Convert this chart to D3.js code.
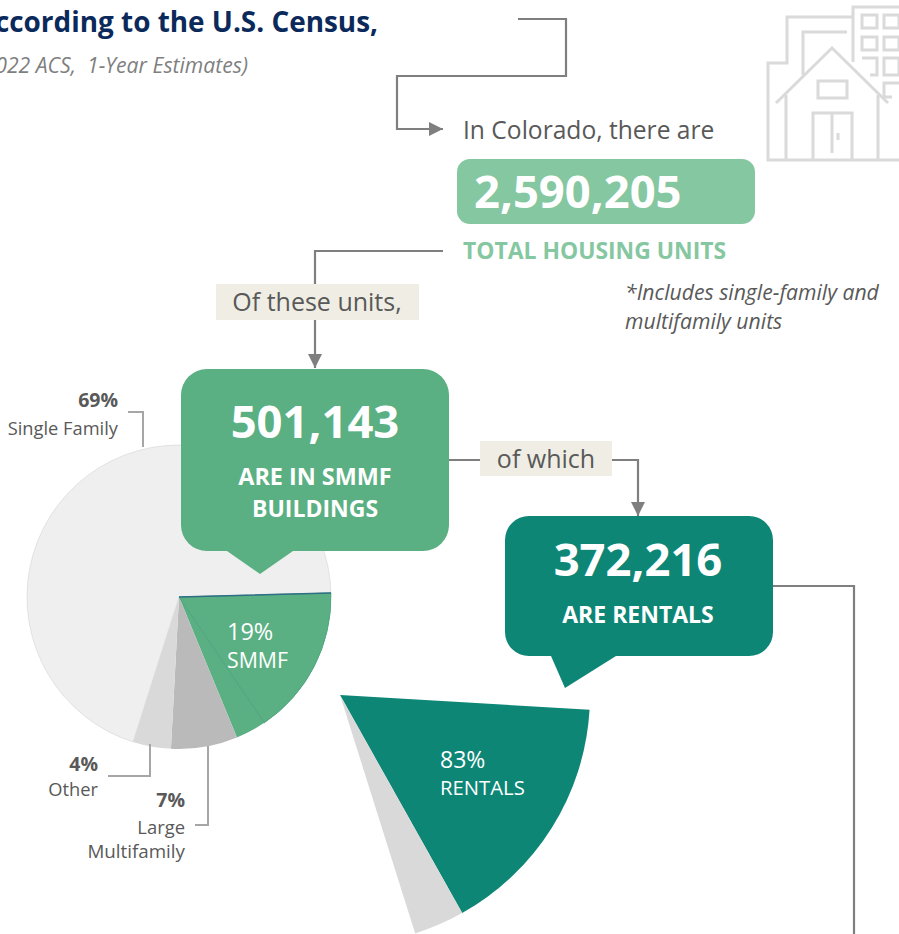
<!DOCTYPE html>
<html>
<head>
<meta charset="utf-8">
<style>
html,body{margin:0;padding:0;background:#fff;overflow:hidden}
text{font-family:"Open Sans",sans-serif}
</style>
<script src="https://cdn.jsdelivr.net/npm/d3@7"></script>
</head>
<body>
<svg id="chart" width="899" height="934"></svg>
<script>
// Colorado housing stock by building type
const buildingTypes = ["SMMF", "Large Multifamily", "Other", "Single Family"];
const buildingShares = [19, 7, 4, 69];
const buildingColors = ["#5AB082", "#BABABA", "#D9D9D9", "#EFEFEF"];

// SMMF units by tenure
const tenureTypes = ["Rentals", "Owned"];
const tenureShares = [83, 17];
const tenureColors = ["#0E8676", "#D9D9D9"];

const rad = d => d * Math.PI / 180;
const svg = d3.select("#chart");

svg.append("defs").append("marker")
  .attr("id", "head").attr("viewBox", "0 0 10 10").attr("refX", 10).attr("refY", 5)
  .attr("markerUnits", "userSpaceOnUse").attr("markerWidth", 15).attr("markerHeight", 14).attr("orient", "auto")
  .append("path").attr("d", "M0,0L10,5L0,10Z").attr("fill", "#7F7F7F");

function label(x, y, str, o = {}) {
  return svg.append("text").attr("x", x).attr("y", y).text(str)
    .attr("font-size", o.size || 19)
    .attr("font-weight", o.weight || 400)
    .attr("font-style", o.style || "normal")
    .attr("fill", o.fill || "#595959")
    .attr("text-anchor", o.anchor || "start")
    .attr("xml:space", "preserve")
    .style("white-space", "pre");
}
const path = d3.line();
function wire(points, color, width, arrow) {
  const p = svg.append("path").attr("d", path(points)).attr("fill", "none")
    .attr("stroke", color).attr("stroke-width", width);
  if (arrow) p.attr("marker-end", "url(#head)");
}

// Main pie: starts just above 3 o'clock, runs clockwise
const mainCenter = [179, 597], mainRadius = 152, mainStart = rad(88.5);
const mainPie = d3.pie().sort(null).startAngle(mainStart).endAngle(mainStart + 2 * Math.PI)(buildingShares);
const mainArc = d3.arc().innerRadius(0).outerRadius(mainRadius);
const mainG = svg.append("g").attr("transform", `translate(${mainCenter})`);
mainG.selectAll("path.slice").data(mainPie).join("path").attr("class", "slice")
  .attr("d", mainArc).attr("fill", (d, i) => buildingColors[i])
  .attr("stroke", (d, i) => i === 3 ? "#D4D4D4" : "none").attr("stroke-width", 0.6);

// SMMF slice divided by tenure, with the dividing edge in a darker green
const smmf = mainPie[0];
const splitPie = d3.pie().sort(null).startAngle(smmf.startAngle).endAngle(smmf.endAngle)(tenureShares);
mainG.selectAll("path.split").data(splitPie.slice(0, 1)).join("path").attr("class", "split")
  .attr("d", mainArc).attr("fill", buildingColors[0])
  .attr("stroke", "#4FA283").attr("stroke-width", 0.8);
mainG.append("path")
  .attr("d", mainArc({startAngle: smmf.startAngle, endAngle: smmf.startAngle}))
  .attr("fill", "none").attr("stroke", "#2F6F86").attr("stroke-width", 1.4);

// Exploded SMMF wedge: same sweep as the SMMF slice at a larger radius
const tenureCenter = [340, 695], tenureRadius = 250, tenureStart = rad(93.4);
const tenurePie = d3.pie().sort(null).startAngle(tenureStart)
  .endAngle(tenureStart + (smmf.endAngle - smmf.startAngle))(tenureShares);
const tenureArc = d3.arc().innerRadius(0).outerRadius(tenureRadius);
svg.append("g").attr("transform", `translate(${tenureCenter})`)
  .selectAll("path").data(tenurePie).join("path")
  .attr("d", tenureArc).attr("fill", (d, i) => tenureColors[i]);

// Leader lines
wire([[128,412],[143,412],[143,447]], "#A6A6A6", 2);
wire([[108,776],[150,776],[150,744]], "#A6A6A6", 2);
wire([[195,825],[208,825],[208,746]], "#A6A6A6", 2);

// Flow connectors
wire([[518,19],[566,19],[566,76],[397,76],[397,129],[443,129]], "#7F7F7F", 2.2, true);
wire([[443,251],[315,251],[315,368]], "#7F7F7F", 2.2, true);
wire([[449,460],[638,460],[638,516]], "#7F7F7F", 2.2, true);
wire([[773,586],[854,586],[854,934]], "#7F7F7F", 2.2);

// Callout with a pointer on its lower edge
function callout(x, y, w, h, r, b0, tip, b1, fill) {
  const d = d3.path();
  d.moveTo(x + r, y);
  d.arcTo(x + w, y, x + w, y + r, r);
  d.arcTo(x + w, y + h, x + w - r, y + h, r);
  d.lineTo(b1, y + h);
  d.lineTo(tip[0], tip[1]);
  d.lineTo(b0, y + h);
  d.arcTo(x, y + h, x, y + h - r, r);
  d.arcTo(x, y, x + r, y, r);
  d.closePath();
  svg.append("path").attr("d", d.toString()).attr("fill", fill);
}
callout(181, 369, 268, 182, 26, 227, [260, 574], 293, "#5AB082");
callout(505, 516, 268, 140, 24, 551, [565, 688], 616, "#0E8676");
svg.append("rect").attr("x", 457).attr("y", 159).attr("width", 298).attr("height", 65).attr("rx", 13).attr("fill", "#85C7A1");

// Tags sitting on the connectors
svg.append("rect").attr("x", 216).attr("y", 284).attr("width", 203).attr("height", 36).attr("fill", "#F0EEE4");
svg.append("rect").attr("x", 480).attr("y", 441).attr("width", 132).attr("height", 35).attr("fill", "#F0EEE4");

// Building icon
const icon = svg.append("g").attr("fill", "none").attr("stroke", "#DADADA").attr("stroke-width", 3);
const iconPath = d => icon.append("path").attr("d", d);
iconPath("M853,62V7H899M853,17H787V63H768V160H899");
iconPath("M803,75V32H847");
iconPath("M776,103L832,48L888,103");
iconPath("M786,95V160M878,95V160");
iconPath("M818,81H847V98H818Z");
iconPath("M813,160V113H852V160M832,113V153M838,133V140");
iconPath("M862,15H877V28H862ZM884,15H899V28H884ZM862,37H877V50H862ZM884,37H899V50H884Z");
iconPath("M862,58H877V75H870M884,58H899V75H884ZM884,97V83H899M884,97H892");

// Heading
label(378, 32, "According to the U.S. Census,", {size: 27.9, weight: 700, fill: "#0B2A5B", anchor: "end"});
label(248, 73, "(2022 ACS,  1-Year Estimates)", {size: 21.2, style: "italic", fill: "#7F7F7F", anchor: "end"});

// Flow text
label(463, 139, "In Colorado, there are", {size: 24.6});
label(474, 208, "2,590,205", {size: 45.4, weight: 700, fill: "#fff"});
label(463, 259, "TOTAL HOUSING UNITS", {size: 22.9, weight: 700, fill: "#85C7A1"});
label(625, 300, "*Includes single-family and", {size: 21.2, style: "italic"});
label(625, 329, "multifamily units", {size: 21.2, style: "italic"});
label(317, 311, "Of these units,", {size: 25, anchor: "middle"});
label(546, 468, "of which", {size: 25, anchor: "middle"});
label(315, 438, "501,143", {size: 45.4, weight: 700, fill: "#fff", anchor: "middle"});
label(315, 485, "ARE IN SMMF", {size: 23.4, weight: 700, fill: "#fff", anchor: "middle"});
label(315, 517, "BUILDINGS", {size: 23, weight: 700, fill: "#fff", anchor: "middle"});
label(638, 576, "372,216", {size: 45.4, weight: 700, fill: "#fff", anchor: "middle"});
label(638, 623, "ARE RENTALS", {size: 23, weight: 700, fill: "#fff", anchor: "middle"});

// Pie labels
label(227, 640, buildingShares[0] + "%", {size: 23.5, fill: "#fff"});
label(227, 668, "SMMF", {size: 21.3, fill: "#fff"});
label(440, 768, tenureShares[0] + "%", {size: 23, fill: "#fff"});
label(440, 795, "RENTALS", {size: 20.3, fill: "#fff"});
label(118, 407, buildingShares[3] + "%", {size: 19.5, weight: 700, anchor: "end"});
label(118, 435, buildingTypes[3], {size: 18.3, anchor: "end"});
label(98, 771, buildingShares[2] + "%", {size: 19.5, weight: 700, anchor: "end"});
label(98, 796, buildingTypes[2], {size: 18.3, anchor: "end"});
label(185, 807, buildingShares[1] + "%", {size: 19.5, weight: 700, anchor: "end"});
label(185, 834, "Large", {size: 18.4, anchor: "end"});
label(185, 858, "Multifamily", {size: 18.8, anchor: "end"});
</script>
</body>
</html>
